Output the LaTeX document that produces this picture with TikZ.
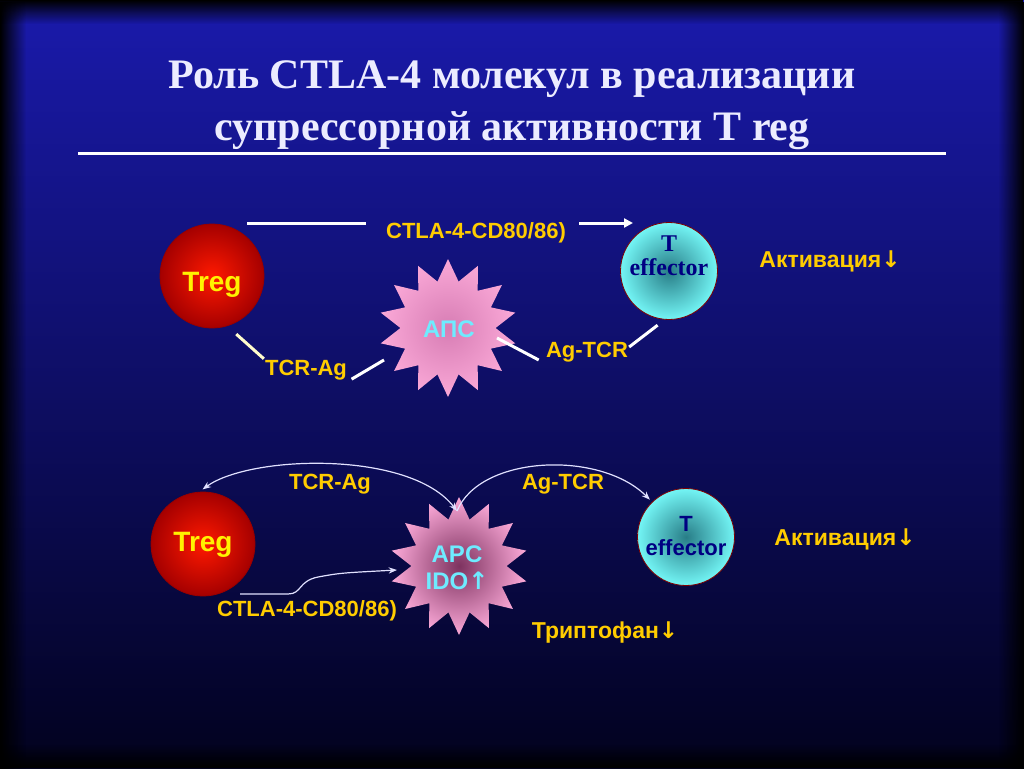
\documentclass[tikz,border=0pt]{standalone}
\usepackage{fontspec}
\setmainfont{Liberation Serif}
\setsansfont{Liberation Sans}
\newfontfamily\arrowfont{DejaVu Sans}
\usetikzlibrary{arrows.meta,shapes.geometric,fadings}
\definecolor{slidetop}{RGB}{26,26,172}
\definecolor{slidemid}{RGB}{10,10,128}
\definecolor{slidebot}{RGB}{2,2,30}
\definecolor{labelgold}{RGB}{255,204,0}
\definecolor{apccyan}{RGB}{110,235,255}
\definecolor{effnavy}{RGB}{0,0,130}
\definecolor{titlewhite}{RGB}{236,236,255}
\definecolor{tregcore}{RGB}{255,25,0}
\definecolor{tregrim}{RGB}{165,0,0}
\definecolor{effcore}{RGB}{40,125,135}
\definecolor{effrim}{RGB}{115,245,245}
\definecolor{apcrim}{RGB}{250,168,215}
\definecolor{apccore}{RGB}{215,125,180}
\definecolor{apcdeep}{RGB}{125,50,95}
\definecolor{curveline}{RGB}{225,225,255}
\newcommand{\downarr}{{\arrowfont\bfseries ↓}}
\newcommand{\uparr}{{\arrowfont\bfseries ↑}}

\begin{document}
\begin{tikzpicture}[x=1pt, y=-1pt, >=Stealth,
  lbl/.style={font=\sffamily\bfseries\fontsize{22}{24}\selectfont, text=labelgold, inner sep=1pt},
  tregcell/.style={circle, minimum size=104, draw=red!60!black, line width=0.8,
    inner color=tregcore, outer color=tregrim, text=yellow,
    font=\sffamily\bfseries\fontsize{28}{30}\selectfont},
  effcell/.style={circle, minimum size=97, draw=red!50!black, line width=0.8,
    inner color=effcore, outer color=effrim},
  efftext/.style={text=effnavy, align=center, inner sep=0},
  apcstar/.style={star, star points=14, star point ratio=1.45, minimum size=138, inner sep=0},
  link/.style={white, line width=3},
  thinlink/.style={curveline, line width=1.2}]
  % background
  \useasboundingbox (0,0) rectangle (1024,768);
  \shade[top color=slidetop, middle color=slidemid, bottom color=slidebot] (0,0) rectangle (1024,768);
  \fill[black, path fading=east] (0,0) rectangle (26,768);
  \fill[black, path fading=west] (998,0) rectangle (1024,768);
  \fill[black, path fading=south] (0,0) rectangle (1024,24);
  \fill[black, path fading=north] (0,744) rectangle (1024,768);

  % title
  \node[anchor=base, text=titlewhite, font=\bfseries\fontsize{42}{50}\selectfont] (ttl1) at (512,88) {Роль CTLA-4 молекул в реализации};
  \node[anchor=base, text=titlewhite, font=\bfseries\fontsize{42}{50}\selectfont] (ttl2) at (512,140) {супрессорной активности T reg};
  \draw[white, line width=3] (78,153) -- (946,153);

  % upper scheme
  \node[tregcell] (treg1) at (212,276) {\raisebox{-15pt}[0pt][0pt]{Treg}};
  \node[effcell] (eff1) at (669,271) {};
  \node[efftext, font=\bfseries\fontsize{24}{24}\selectfont] (eff1txt) at (669,256) {T\\effector};
  \node[apcstar, inner color=apccore, outer color=apcrim] (apc1) at (448,328) {};
  \node[text=apccyan, font=\sffamily\bfseries\fontsize{24}{26}\selectfont] (apc1txt) at (449,329) {АПС};
  \node[lbl] (ctla1) at (476,233) {CTLA-4-CD80/86)};
  \node[lbl] (tcr1) at (306,370) {TCR-Ag};
  \node[lbl] (ag1) at (587,352) {Ag-TCR};
  \node[lbl, font=\sffamily\bfseries\fontsize{23}{24}\selectfont] (akt1) at (830,261) {Активация\downarr};
  \coordinate (topstart) at (247,223);
  \coordinate (topend) at (633,223);
  \coordinate (apc1sw) at (384,360);
  \coordinate (apc1e) at (497,338);
  \draw[link] (topstart) -- ([xshift=-19pt]ctla1.west |- topstart);
  \draw[link, -{Triangle[length=9, width=9]}] ([xshift=12pt]ctla1.east |- topstart) -- (topend);
  \draw[link, white!80!yellow, shorten <=12] (treg1.-73) -- (tcr1.north west);
  \draw[link, shorten <=4] (tcr1.south east) -- (apc1sw);
  \draw[link, shorten >=7] (apc1e) -- (ag1.south west);
  \draw[link, shorten >=9] ([yshift=5pt]ag1.east) -- (eff1.-95);

  % lower scheme
  \node[tregcell] (treg2) at (203,544) {\raisebox{-7pt}[0pt][0pt]{Treg}};
  \node[effcell] (eff2) at (686,537) {};
  \node[efftext, font=\sffamily\bfseries\fontsize{22}{24}\selectfont] (eff2txt) at (686,536) {T\\effector};
  \node[apcstar, inner color=apcdeep, outer color=apcrim] (apc2) at (459,566) {};
  \node[text=apccyan, align=center, font=\sffamily\bfseries\fontsize{24}{27}\selectfont] (apc2txt) at (457,568) {APC\\IDO\uparr};
  \node[lbl] (tcr2) at (330,484) {TCR-Ag};
  \node[lbl] (ag2) at (563,484) {Ag-TCR};
  \node[lbl] (ctla2) at (307,611) {CTLA-4-CD80/86)};
  \node[lbl, font=\sffamily\bfseries\fontsize{23}{24}\selectfont] (trp) at (605,632) {Триптофан\downarr};
  \node[lbl, font=\sffamily\bfseries\fontsize{23}{24}\selectfont] (akt2) at (845,539) {Активация\downarr};
  \coordinate (apc2in) at (457,511);
  \coordinate (ctla2start) at (240,594);
  \coordinate (apc2w) at (397,570);
  \draw[thinlink, <->, shorten <=4] (treg2.94) .. controls (250,455) and (410,450) .. (apc2in);
  \draw[thinlink, ->, shorten >=3] (apc2in) .. controls (480,455) and (600,450) .. (eff2.134);
  \draw[thinlink, ->] (ctla2start) -- (288,594) .. controls (302,594) and (298,581) .. (318,577) .. controls (340,573) .. (apc2w);
\end{tikzpicture}
\end{document}
